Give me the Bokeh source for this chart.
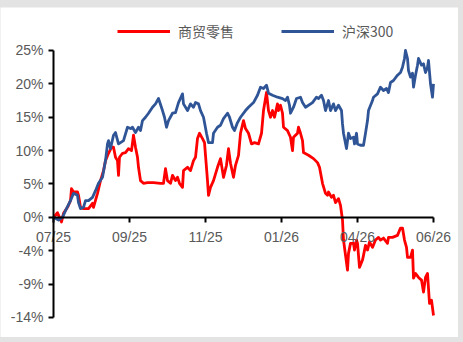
from bokeh.plotting import figure
from bokeh.models import Range1d, FixedTicker, Legend, LegendItem
from bokeh.layouts import column
from bokeh.embed import file_html
from bokeh.resources import INLINE

# ---- data (day index along the axis, cumulative return %) ----
retail_day = [0, 4, 6, 8, 10, 14, 17, 18, 20, 24, 25, 27, 30, 35, 39, 40, 44, 47, 50, 52, 55, 58, 60, 62, 64, 65,
              66, 69, 72, 75, 78, 80, 82, 84, 85, 87, 90, 94, 100, 107, 110, 112, 114, 117, 119, 122, 124, 126,
              129, 130, 134, 137, 140, 142, 144, 146, 149, 151, 154, 155, 157, 160, 164, 167, 170, 173, 175, 177,
              180, 182, 185, 187, 190, 192, 195, 198, 201, 205, 208, 210, 213, 215, 217, 219, 221, 224, 225, 227,
              229, 230, 234, 237, 239, 240, 244, 245, 247, 249, 250, 255, 260, 264, 266, 269, 272, 274, 275, 278,
              280, 282, 285, 287, 289, 290, 294, 295, 297, 300, 301, 303, 304, 306, 309, 310, 312, 314, 316, 319,
              322, 325, 327, 330, 334, 335, 339, 344, 347, 349, 351, 353, 354, 357, 359, 360, 362, 365, 368, 370,
              372, 374, 376, 378, 380]
retail_val = [0, 0.7, 0, -0.7, 0.6, 1.5, 2.5, 4.3, 3.8, 3.8, 3.3, 1.5, 1.3, 1.3, 2.1, 1.5, 3.6, 5.5, 7, 8.5,
              9.6, 10.5, 10.5, 9, 8.5, 6.3, 9, 9.6, 9.7, 10.3, 10, 12.3, 10.5, 9, 7.5, 5.5, 5.1, 5.2, 5.2, 5.1,
              5.1, 7.3, 5.5, 5.1, 6.3, 5.5, 6, 5.1, 4.5, 7, 7.5, 7, 8.5, 9, 11.8, 12.6, 11.8, 11.2, 5.5, 3.3, 4.5,
              5.5, 7.5, 8.8, 6, 7.8, 10.3, 8.1, 6, 7.8, 9.3, 12.6, 14.5, 13.3, 12.6, 11, 11.2, 11, 12.6, 16, 18.7,
              16, 15, 16, 15, 17, 16, 16.8, 15.6, 13.5, 13, 12, 10, 12, 12.6, 13.5, 12.6, 11.5, 9.7, 9.3, 8.8,
              8.2, 7.5, 5.1, 3.6, 3.3, 3.8, 3, 3.3, 2.2, 2.8, 1.8, -0.4, -3.4, -7.9, -5.4, -3.9, -3.9, -4.9, -3.4,
              -3.9, -7.5, -6.4, -5.7, -4.2, -4.9, -3.7, -4.5, -3.4, -3, -3.4, -3.1, -3.9, -3, -3, -2.7, -1.6,
              -1.6, -3.4, -4.5, -6, -6, -4.9, -9.1, -8.4, -9, -9.4, -11.2, -9, -8.4, -12.9, -12.4, -14.7]

hs300_day = [0, 5, 9, 12, 17, 20, 24, 25, 27, 30, 32, 35, 39, 42, 45, 49, 52, 54, 55, 57, 60, 62, 65, 67, 70,
             74, 77, 79, 82, 85, 87, 89, 92, 95, 99, 102, 105, 109, 111, 113, 115, 119, 122, 125, 129, 130, 134,
             137, 140, 142, 145, 147, 150, 153, 155, 159, 160, 164, 167, 170, 174, 176, 179, 181, 184, 187, 192,
             195, 200, 204, 207, 210, 213, 215, 219, 224, 229, 232, 234, 236, 237, 240, 243, 247, 249, 252, 259,
             263, 265, 268, 270, 272, 275, 277, 280, 282, 285, 288, 289, 290, 293, 295, 297, 300, 301, 303, 304,
             307, 310, 312, 314, 315, 319, 320, 324, 327, 330, 333, 335, 337, 340, 344, 347, 349, 351, 352, 354,
             355, 357, 359, 360, 362, 364, 365, 368, 370, 372, 374, 375, 377, 379, 380]
hs300_val = [0, -0.4, 0, 1, 2.5, 3.6, 3.3, 2.2, 1.3, 1.5, 2.5, 2.5, 3, 4, 5.1, 6, 8.5, 11, 11.5, 10.3, 12.3,
             12.7, 11, 11.2, 11.5, 13.5, 13.3, 13.5, 12.7, 13.5, 13, 14.5, 15, 15.6, 16.5, 17, 17.8, 16, 15, 13.5,
             14.5, 15.6, 15.7, 17.2, 18.5, 17, 16, 17, 16.5, 17.2, 17, 16, 15, 12.6, 11.2, 11.2, 12.6, 13.5, 13.8,
             14.8, 15.6, 15, 13.5, 13, 14.2, 15, 16, 16.5, 17.2, 18.3, 19.5, 19.3, 19.8, 18.6, 18.3, 18, 17.8,
             17.5, 18, 16.8, 15.6, 16.5, 17.8, 18, 17.2, 16.5, 17.2, 18, 17.8, 18.3, 17.5, 16, 17.5, 16, 17, 16,
             16.8, 16, 14, 12.6, 10.3, 12.6, 11.8, 12, 11, 12.6, 11, 10.8, 10.8, 12.6, 14.5, 16, 17.5, 18, 18.5,
             19.5, 19, 19.3, 18.7, 20.2, 20.5, 21.3, 21.7, 22.5, 23.8, 25, 23.8, 22, 21, 21.6, 19.5, 21.3, 22.8,
             23.8, 22.8, 23, 21.7, 22.5, 23.5, 20, 18, 20]

x_tick_days = [0, 76, 152, 228, 304, 380]
x_tick_labels = ["07/25", "09/25", "11/25", "01/26", "04/26", "06/26"]
y_ticks = [-15, -10, -5, 0, 5, 10, 15, 20, 25]
y_tick_labels = ["-14%", "-9%", "-4%", "0%", "5%", "10%", "15%", "20%", "25%"]
series_names = ["商贸零售", "沪深300"]

RED = "#FF0000"
BLUE = "#2F5597"
GREY_TXT = "#595959"

# frame fills the white panel; axes are pinned at x=0 / y=0
p = figure(width=458, height=330, output_backend="svg", toolbar_location=None,
           x_range=Range1d(-53, 405), y_range=Range1d(-18.0, 31.44),
           min_border_left=0, min_border_right=0, min_border_top=0, min_border_bottom=0)
p.outline_line_color = None
p.grid.visible = False
p.background_fill_color = "white"
p.border_fill_color = "white"

r1 = p.line(retail_day, retail_val, line_color=RED, line_width=2.8, line_join="round")
r2 = p.line(hs300_day, hs300_val, line_color=BLUE, line_width=2.8, line_join="round")

for ax in (p.xaxis[0], p.yaxis[0]):
    ax.axis_line_width = 2
    ax.axis_line_color = "black"
    ax.major_tick_line_width = 2
    ax.major_tick_line_color = "black"
    ax.major_tick_in = 0
    ax.major_tick_out = 5
    ax.minor_tick_line_color = None
    ax.major_label_text_color = GREY_TXT
    ax.major_label_text_font = "Liberation Sans"
    ax.major_label_text_font_size = "14px"
    ax.fixed_location = 0

p.xaxis.bounds = (0, 380)
p.xaxis.ticker = FixedTicker(ticks=x_tick_days)
p.xaxis.major_label_overrides = dict(zip(x_tick_days, x_tick_labels))
p.xaxis.major_label_standoff = 7

p.yaxis.bounds = (-15, 25)
p.yaxis.ticker = FixedTicker(ticks=y_ticks)
p.yaxis.major_label_overrides = dict(zip(y_ticks, y_tick_labels))
p.yaxis.major_label_standoff = 5

legend = Legend(items=[LegendItem(label=series_names[0], renderers=[r1]),
                       LegendItem(label=series_names[1], renderers=[r2])],
                orientation="horizontal", location=(117, 296),
                glyph_width=53, glyph_height=16, label_standoff=8, spacing=47,
                padding=0, margin=0, border_line_color=None, background_fill_alpha=0,
                label_text_font="Noto Sans CJK SC", label_text_font_size="14px",
                label_text_color=GREY_TXT)
p.add_layout(legend)

layout = column(p, styles={"background-color": "#e3e3e3", "padding": "7px 5px 5px 0px"})

open("out.html", "w").write(file_html(layout, INLINE))
